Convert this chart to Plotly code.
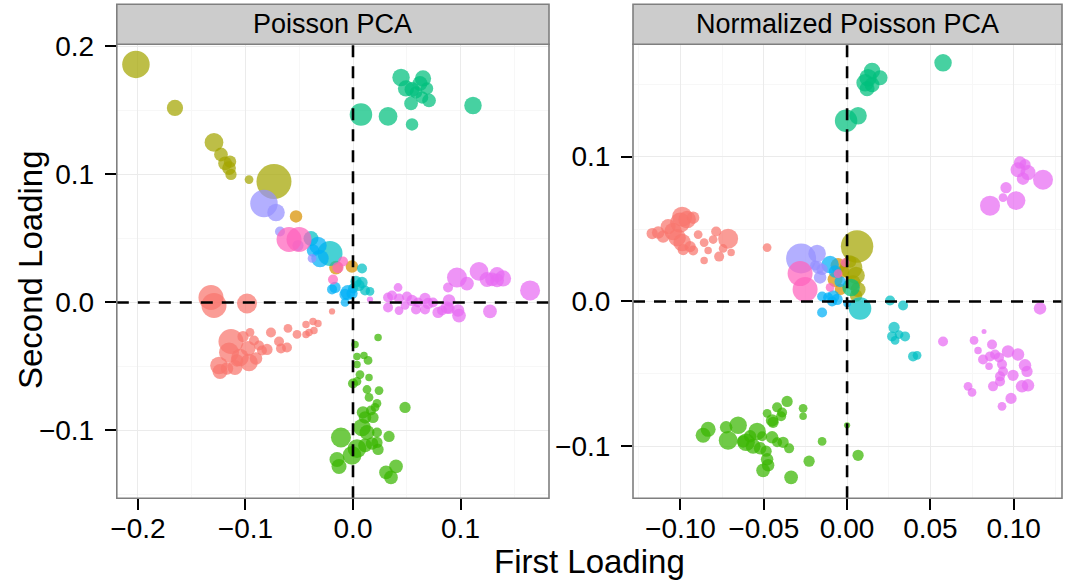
import plotly.graph_objects as go

# ---------------------------------------------------------------------------
# Loadings per cluster: (first loading, second loading, abundance weight)
# ---------------------------------------------------------------------------
GROUPS = ["c01", "c02", "c03", "c04", "c05", "c06", "c07", "c08", "c09", "c10"]
COLORS = ["#F8766D", "#D89000", "#A3A500", "#39B600", "#00BF7D",
          "#00BFC4", "#00B0F6", "#9590FF", "#E76BF3", "#FF62BC"]

# --- Poisson PCA -----------------------------------------------------------
P_C01 = [(-0.1321, 0.0039, 20), (-0.1293, -0.0023, 20), (-0.0986, -0.0008, 16),
         (-0.0195, -0.0070, 5), (-0.1135, -0.0305, 20), (-0.1153, -0.0391, 16),
         (-0.1247, -0.0492, 14), (-0.1237, -0.0539, 12), (-0.1098, -0.0508, 12),
         (-0.1051, -0.0430, 14), (-0.0977, -0.0359, 12), (-0.0967, -0.0469, 14),
         (-0.0902, -0.0438, 10), (-0.1023, -0.0266, 9), (-0.0958, -0.0234, 7),
         (-0.0921, -0.0297, 8), (-0.0874, -0.0336, 8), (-0.0847, -0.0375, 8),
         (-0.0800, -0.0367, 9), (-0.0763, -0.0234, 8), (-0.0688, -0.0305, 8),
         (-0.0670, -0.0359, 8), (-0.0614, -0.0352, 8), (-0.0605, -0.0203, 7),
         (-0.0521, -0.0250, 7), (-0.0437, -0.0172, 6), (-0.0437, -0.0250, 6),
         (-0.0372, -0.0148, 6), (-0.0363, -0.0219, 6), (-0.0326, -0.0164, 6),
         (-0.0409, -0.0234, 6), (-0.1172, -0.0516, 10), (-0.1079, -0.0453, 10)]
P_C02 = [(-0.0530, 0.0672, 10), (-0.0158, 0.0273, 11), (-0.0010, 0.0281, 10)]
P_C03 = [(-0.2019, 0.1860, 22), (-0.1656, 0.1520, 13), (-0.1293, 0.1250, 15),
         (-0.1228, 0.1156, 11), (-0.1144, 0.1100, 10), (-0.1190, 0.1086, 11),
         (-0.1153, 0.1050, 11), (-0.1135, 0.1000, 9), (-0.0967, 0.0960, 7),
         (-0.0735, 0.0945, 28)]
P_C04 = [(0.0019, -0.0328, 6), (0.0233, -0.0273, 6), (0.0037, -0.0422, 6),
         (0.0102, -0.0414, 6), (0.0140, -0.0453, 7), (0.0037, -0.0484, 6),
         (0.0065, -0.0563, 7), (0.0149, -0.0586, 6), (0.0000, -0.0633, 8),
         (0.0037, -0.0617, 7), (0.0130, -0.0680, 7), (0.0242, -0.0688, 7),
         (0.0149, -0.0742, 7), (0.0223, -0.0789, 7), (0.0205, -0.0820, 7),
         (0.0484, -0.0820, 9), (0.0093, -0.0859, 10), (0.0167, -0.0844, 8),
         (0.0112, -0.0898, 10), (0.0186, -0.0898, 9), (0.0084, -0.0977, 14),
         (0.0130, -0.1016, 12), (0.0223, -0.1016, 8), (-0.0112, -0.1055, 16),
         (0.0335, -0.1047, 9), (0.0037, -0.1141, 15), (-0.0009, -0.1195, 15),
         (0.0112, -0.1117, 11), (0.0177, -0.1102, 10), (0.0223, -0.1094, 9),
         (0.0233, -0.1148, 9), (-0.0149, -0.1227, 12), (-0.0130, -0.1281, 12),
         (0.0307, -0.1328, 11), (0.0400, -0.1281, 11), (0.0353, -0.1367, 11)]
P_C05 = [(0.0447, 0.1758, 14), (0.0651, 0.1750, 13), (0.0493, 0.1672, 13),
         (0.0549, 0.1664, 12), (0.0623, 0.1711, 12), (0.0688, 0.1672, 10),
         (0.0586, 0.1641, 10), (0.0642, 0.1602, 10), (0.0707, 0.1578, 11),
         (0.0540, 0.1555, 11), (0.1116, 0.1539, 14), (0.0074, 0.1469, 18),
         (0.0326, 0.1453, 15), (0.0549, 0.1391, 10)]
P_C06 = [(-0.0391, 0.0500, 12), (-0.0214, 0.0383, 20), (0.0084, 0.0266, 8),
         (0.0028, 0.0164, 9), (0.0056, 0.0133, 9), (0.0084, 0.0156, 9),
         (0.0112, 0.0094, 8), (0.0158, 0.0086, 7), (0.0000, 0.0109, 8)]
P_C07 = [(-0.0326, 0.0445, 14), (-0.0307, 0.0344, 14), (-0.0372, 0.0406, 10),
         (-0.0167, 0.0117, 9), (-0.0195, 0.0102, 8), (-0.0047, 0.0078, 12),
         (-0.0074, 0.0063, 9), (-0.0009, 0.0070, 9), (-0.0074, 0.0000, 7)]
P_C08 = [(-0.0828, 0.0773, 22), (-0.0716, 0.0703, 14), (-0.0679, 0.0555, 8),
         (-0.0512, 0.0445, 9), (-0.0381, 0.0344, 7)]
P_C09 = [(0.0419, 0.0117, 7), (0.0326, 0.0039, 8), (0.0363, 0.0055, 8),
         (0.0326, -0.0039, 8), (0.0428, 0.0031, 8), (0.0502, 0.0047, 8),
         (0.0549, 0.0016, 9), (0.0605, 0.0000, 8), (0.0670, 0.0031, 9),
         (0.0698, -0.0008, 9), (0.0744, 0.0000, 8), (0.0586, -0.0055, 8),
         (0.0670, -0.0055, 8), (0.0428, -0.0063, 7), (0.0484, -0.0023, 7),
         (0.0791, -0.0078, 9), (0.0828, -0.0063, 8), (0.0874, -0.0039, 10),
         (0.0893, 0.0016, 10), (0.0893, -0.0047, 9), (0.0986, -0.0102, 11),
         (0.0977, -0.0063, 10), (0.0884, 0.0117, 8), (0.0967, 0.0195, 16),
         (0.1060, 0.0148, 11), (0.1172, 0.0242, 15), (0.1247, 0.0180, 12),
         (0.1340, 0.0219, 12), (0.1395, 0.0188, 13), (0.1340, 0.0172, 11),
         (0.1293, 0.0180, 11), (0.1647, 0.0094, 16), (0.1274, -0.0070, 11),
         (0.0158, 0.0023, 5)]
P_C10 = [(-0.0595, 0.0492, 20), (-0.0502, 0.0492, 20), (-0.0093, 0.0320, 8),
         (-0.0140, 0.0273, 9), (-0.0186, 0.0180, 8)]

# --- Normalized Poisson PCA -------------------------------------------------
N_C01 = [(-0.1170, 0.0469, 9), (-0.1134, 0.0476, 10), (-0.1104, 0.0448, 10),
         (-0.1074, 0.0517, 12), (-0.1044, 0.0483, 14), (-0.0990, 0.0586, 16),
         (-0.1002, 0.0545, 16), (-0.0960, 0.0566, 14), (-0.0924, 0.0579, 10),
         (-0.1020, 0.0441, 14), (-0.0990, 0.0407, 14), (-0.0984, 0.0359, 9),
         (-0.0942, 0.0379, 9), (-0.0924, 0.0352, 8), (-0.0894, 0.0462, 7),
         (-0.0858, 0.0407, 7), (-0.0834, 0.0352, 6), (-0.0804, 0.0428, 7),
         (-0.0786, 0.0483, 8), (-0.0714, 0.0434, 16), (-0.0744, 0.0366, 7),
         (-0.0696, 0.0338, 6), (-0.0768, 0.0310, 8), (-0.0858, 0.0283, 6),
         (-0.0480, 0.0372, 7)]
N_C02 = [(-0.0072, 0.0152, 12), (-0.0054, 0.0248, 12), (-0.0024, 0.0207, 10),
         (-0.0040, 0.0083, 9)]
N_C03 = [(0.0060, 0.0380, 26), (0.0024, 0.0234, 18), (0.0054, 0.0180, 14),
         (0.0036, 0.0130, 12), (0.0066, 0.0083, 12), (0.0054, 0.0041, 10),
         (0.0018, 0.0276, 10)]
N_C04 = [(-0.0360, -0.0690, 9), (-0.0264, -0.0738, 7), (-0.0420, -0.0731, 8),
         (-0.0390, -0.0766, 8), (-0.0480, -0.0772, 7), (-0.0396, -0.0793, 8),
         (-0.0264, -0.0793, 6), (-0.0450, -0.0821, 10), (-0.0444, -0.0834, 9),
         (-0.0834, -0.0883, 12), (-0.0864, -0.0924, 12), (-0.0726, -0.0869, 10),
         (-0.0654, -0.0855, 14), (-0.0714, -0.0959, 15), (-0.0540, -0.0897, 14),
         (-0.0582, -0.0931, 10), (-0.0510, -0.0931, 8), (-0.0450, -0.0938, 10),
         (-0.0606, -0.0972, 14), (-0.0564, -0.1000, 12), (-0.0420, -0.0972, 8),
         (-0.0384, -0.0972, 9), (-0.0348, -0.1014, 8), (-0.0522, -0.1014, 10),
         (-0.0486, -0.1034, 9), (-0.0150, -0.0966, 7), (-0.0480, -0.1090, 10),
         (-0.0474, -0.1131, 10), (-0.0504, -0.1166, 11), (-0.0228, -0.1103, 9),
         (-0.0336, -0.1214, 11), (-0.0624, -0.0966, 10), (0.0000, -0.0855, 5),
         (0.0066, -0.1062, 9)]
N_C05 = [(0.0576, 0.1648, 14), (0.0150, 0.1593, 13), (0.0198, 0.1545, 12),
         (0.0126, 0.1545, 14), (0.0108, 0.1510, 14), (0.0150, 0.1497, 12),
         (0.0120, 0.1469, 12), (-0.0006, 0.1248, 18), (0.0066, 0.1283, 14),
         (0.0024, 0.0097, 14)]
N_C06 = [(0.0078, -0.0048, 18), (0.0258, 0.0007, 8), (0.0336, -0.0028, 8),
         (0.0282, -0.0179, 9), (0.0270, -0.0241, 8), (0.0312, -0.0228, 7),
         (0.0348, -0.0241, 8), (0.0288, -0.0269, 7), (0.0396, -0.0379, 8),
         (0.0420, -0.0372, 7)]
N_C07 = [(-0.0102, 0.0255, 14), (-0.0150, 0.0034, 8), (-0.0114, 0.0028, 8),
         (-0.0084, 0.0034, 10), (-0.0060, 0.0014, 9), (-0.0090, 0.0000, 8),
         (-0.0150, -0.0076, 8), (-0.0042, 0.0138, 9), (-0.0072, 0.0207, 10),
         (0.0000, -0.0014, 6)]
N_C08 = [(-0.0276, 0.0297, 24), (-0.0180, 0.0331, 14), (-0.0174, 0.0234, 10),
         (-0.0150, 0.0221, 9), (-0.0162, 0.0166, 10), (-0.0192, 0.0248, 8)]
N_C09 = [(0.1038, 0.0959, 10), (0.1068, 0.0945, 9), (0.1026, 0.0910, 12),
         (0.1086, 0.0890, 12), (0.1056, 0.0848, 10), (0.1176, 0.0841, 16),
         (0.0954, 0.0786, 9), (0.0936, 0.0717, 7), (0.1014, 0.0697, 15),
         (0.0858, 0.0662, 16), (0.1158, -0.0048, 10), (0.0576, -0.0276, 8),
         (0.0762, -0.0269, 7), (0.0822, -0.0207, 4), (0.0786, -0.0338, 6),
         (0.0870, -0.0297, 8), (0.0816, -0.0400, 8), (0.0858, -0.0379, 8),
         (0.0888, -0.0366, 8), (0.0912, -0.0386, 8), (0.0966, -0.0345, 10),
         (0.1026, -0.0366, 10), (0.0852, -0.0448, 6), (0.0930, -0.0434, 8),
         (0.0936, -0.0483, 8), (0.0918, -0.0517, 8), (0.0996, -0.0510, 9),
         (0.1068, -0.0441, 10), (0.1080, -0.0483, 9), (0.0918, -0.0552, 8),
         (0.0876, -0.0586, 8), (0.1050, -0.0586, 10), (0.1086, -0.0579, 10),
         (0.0726, -0.0586, 7), (0.0750, -0.0628, 7), (0.0984, -0.0669, 9),
         (0.0930, -0.0724, 7)]
N_C10 = [(-0.0282, 0.0193, 20), (-0.0252, 0.0083, 20), (-0.0012, 0.0269, 7),
         (-0.0054, 0.0193, 7), (-0.0102, 0.0097, 7)]

PANEL_TITLES = ["Poisson PCA", "Normalized Poisson PCA"]
PANEL_DATA = [
    [P_C01, P_C02, P_C03, P_C04, P_C05, P_C06, P_C07, P_C08, P_C09, P_C10],
    [N_C01, N_C02, N_C03, N_C04, N_C05, N_C06, N_C07, N_C08, N_C09, N_C10],
]

FONT = "Liberation Sans, Arial, Helvetica, sans-serif"
W, H = 1065, 582
SIZE_SCALE = 1.25  # abundance weight -> marker diameter (px)

fig = go.Figure()
for p, groups in enumerate(PANEL_DATA):
    xa = "x" if p == 0 else "x2"
    ya = "y" if p == 0 else "y2"
    for name, color, pts in zip(GROUPS, COLORS, groups):
        fig.add_trace(go.Scatter(
            x=[q[0] for q in pts], y=[q[1] for q in pts],
            mode="markers", name=name, showlegend=False,
            xaxis=xa, yaxis=ya,
            marker=dict(size=[q[2] * SIZE_SCALE for q in pts], color=color,
                        opacity=0.72, line=dict(width=0)),
        ))

# Panel geometry (paper fractions)
PANEL_TOP_PX, PANEL_BOT_PX = 44.3, 498.3
y_dom = [1 - PANEL_BOT_PX / H, 1 - PANEL_TOP_PX / H]
x_dom_left = [116.8 / W, 549.0 / W]
x_dom_right = [633.0 / W, 1062.0 / W]
strip_h = 40.0 / (PANEL_BOT_PX - PANEL_TOP_PX)

axis_common = dict(
    showline=False, zeroline=False, ticks="outside", ticklen=11, tickwidth=2,
    tickcolor="black", showgrid=True, gridcolor="#EBEBEB", gridwidth=1.2,
    automargin=False,
    tickfont=dict(family=FONT, size=28, color="black"),
)
minor_grid = dict(showgrid=True, gridcolor="#F7F7F7", ticks="")

fig.update_layout(
    width=W, height=H, margin=dict(l=0, r=0, t=0, b=0, autoexpand=False),
    paper_bgcolor="white", plot_bgcolor="white",
    font=dict(family=FONT, color="black"),
    xaxis=dict(domain=x_dom_left, range=[-0.2197, 0.1823], anchor="y",
               tick0=0, dtick=0.1, tickformat=".1f", ticklabelstandoff=-6,
               minor=dict(dtick=0.05, **minor_grid), **axis_common),
    yaxis=dict(domain=y_dom, range=[-0.153, 0.2017], anchor="x",
               tick0=0, dtick=0.1, tickformat=".1f", ticklabelstandoff=5,
               minor=dict(dtick=0.05, **minor_grid), **axis_common),
    xaxis2=dict(domain=x_dom_right, range=[-0.1285, 0.129], anchor="y2",
                tick0=0, dtick=0.05, tickformat=".2f", ticklabelstandoff=-6,
                minor=dict(dtick=0.025, **minor_grid), **axis_common),
    yaxis2=dict(domain=y_dom, range=[-0.1359, 0.1776], anchor="x2",
                tick0=0, dtick=0.1, tickformat=".1f", ticklabelstandoff=5,
                minor=dict(dtick=0.05, **minor_grid), **axis_common),
)

shapes = []
annotations = []
DASH = dict(color="black", width=2.6, dash="12px,9px")
for p, (xa, ya) in enumerate([("x", "y"), ("x2", "y2")]):
    # dashed reference lines through the origin
    shapes.append(dict(type="line", xref=xa, yref=f"{ya} domain",
                       x0=0, x1=0, y0=0, y1=1, layer="above", line=DASH))
    shapes.append(dict(type="line", xref=f"{xa} domain", yref=ya,
                       x0=0, x1=1, y0=0, y1=0, layer="above", line=DASH))
    # panel border
    shapes.append(dict(type="rect", xref=f"{xa} domain", yref=f"{ya} domain",
                       x0=0, x1=1, y0=0, y1=1, layer="above",
                       line=dict(color="#7F7F7F", width=1.6)))
    # facet strip
    shapes.append(dict(type="rect", xref=f"{xa} domain", yref=f"{ya} domain",
                       x0=0, x1=1, y0=1, y1=1 + strip_h, layer="above",
                       fillcolor="#CCCCCC", line=dict(color="#7F7F7F", width=1.6)))
    annotations.append(dict(text=PANEL_TITLES[p], xref=f"{xa} domain",
                            yref=f"{ya} domain", x=0.5, y=1 + strip_h / 2,
                            xanchor="center", yanchor="middle", showarrow=False,
                            font=dict(family=FONT, size=27, color="black")))

annotations.append(dict(text="First Loading", xref="paper", yref="paper",
                        x=589.5 / W, y=1 - 561 / H, xanchor="center",
                        yanchor="middle", showarrow=False,
                        font=dict(family=FONT, size=33, color="black")))
annotations.append(dict(text="Second Loading", xref="paper", yref="paper",
                        x=30 / W, y=1 - 270 / H, xanchor="center",
                        yanchor="middle", textangle=-90, showarrow=False,
                        font=dict(family=FONT, size=33, color="black")))

fig.update_layout(shapes=shapes, annotations=annotations)
fig.write_html("out.html")
